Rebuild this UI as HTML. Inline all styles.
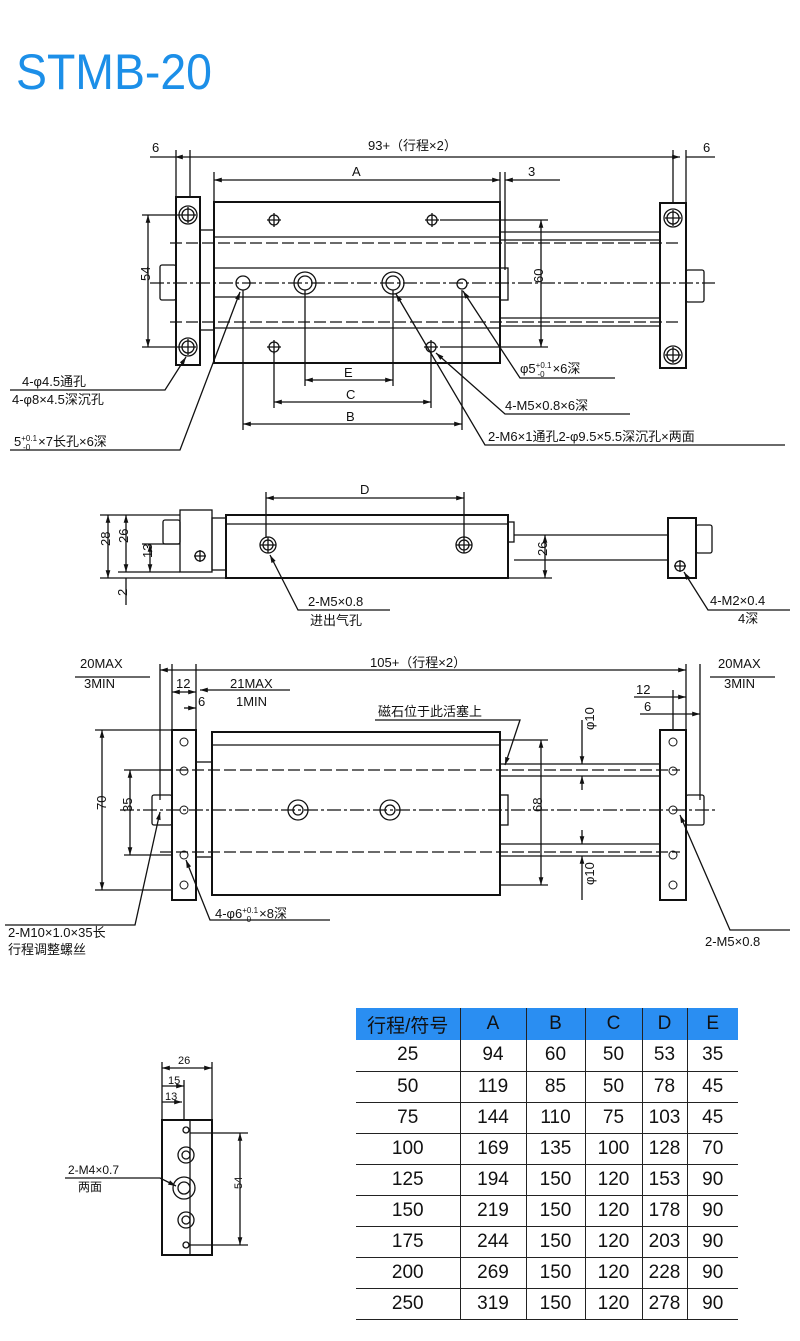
<!DOCTYPE html>
<html><head><meta charset="utf-8"><style>
body{margin:0;background:#fff;width:800px;height:1341px;overflow:hidden;font-family:"Liberation Sans","Noto Sans CJK SC",sans-serif}
svg{position:absolute;left:0;top:0}
svg text{font-family:"Liberation Sans","Noto Sans CJK SC",sans-serif;font-size:13px;fill:#111}
</style></head><body>
<svg width="800" height="1341" viewBox="0 0 800 1341">
<defs>
<marker id="a" viewBox="0 0 10 10" refX="10" refY="5" markerWidth="8" markerHeight="6" orient="auto-start-reverse"><path d="M0,2L10,5L0,8z" fill="#111"/></marker>
</defs>
<text x="16" y="89" textLength="196" lengthAdjust="spacingAndGlyphs" style="font-size:50px;fill:#1c8fe8">STMB-20</text>
<g stroke="#111" stroke-width="1.3" fill="none">
<!-- TOP VIEW -->
<line x1="175" y1="157" x2="680" y2="157" marker-start="url(#a)" marker-end="url(#a)"/>
<line x1="150" y1="157" x2="175" y2="157"/><line x1="686" y1="157" x2="715" y2="157"/>
<line x1="176" y1="150" x2="176" y2="197"/><line x1="190" y1="150" x2="190" y2="197"/>
<line x1="673" y1="150" x2="673" y2="203"/><line x1="686" y1="150" x2="686" y2="203"/>
<line x1="214" y1="180" x2="500" y2="180" marker-start="url(#a)" marker-end="url(#a)"/>
<line x1="214" y1="172" x2="214" y2="202"/><line x1="500" y1="172" x2="500" y2="202"/><line x1="505" y1="172" x2="505" y2="270"/>
<line x1="505" y1="180" x2="560" y2="180" marker-start="url(#a)"/>
<rect x="176" y="197" width="24" height="168" stroke-width="2"/>
<circle cx="188" cy="215" r="9"/><circle cx="188" cy="215" r="6"/><path d="M180 215h16M188 207v16"/>
<circle cx="188" cy="347" r="9"/><circle cx="188" cy="347" r="6"/><path d="M180 347h16M188 339v16"/>
<rect x="200" y="230" width="14" height="100"/>
<rect x="160" y="265" width="16" height="35" rx="2"/>
<rect x="214" y="202" width="286" height="161" stroke-width="2"/>
<line x1="214" y1="237" x2="500" y2="237"/><line x1="214" y1="268" x2="500" y2="268"/>
<line x1="214" y1="297" x2="500" y2="297"/><line x1="214" y1="328" x2="500" y2="328"/>
<line x1="170" y1="243" x2="680" y2="243" stroke-dasharray="12 4"/>
<line x1="170" y1="322" x2="680" y2="322" stroke-dasharray="12 4"/>
<line x1="150" y1="283" x2="715" y2="283" stroke-dasharray="14 3 3 3"/>
<line x1="500" y1="232" x2="660" y2="232"/><line x1="500" y1="240" x2="660" y2="240"/>
<line x1="500" y1="318" x2="660" y2="318"/><line x1="500" y1="326" x2="660" y2="326"/>
<rect x="500" y="268" width="8" height="32"/>
<rect x="660" y="203" width="26" height="165" stroke-width="2"/>
<circle cx="673" cy="218" r="9"/><circle cx="673" cy="218" r="6"/><path d="M665 218h16M673 210v16"/>
<circle cx="673" cy="355" r="9"/><circle cx="673" cy="355" r="6"/><path d="M665 355h16M673 347v16"/>
<rect x="686" y="270" width="18" height="32" rx="2"/>
<circle cx="274" cy="220" r="5"/><path d="M267 220h14M274 213v14"/>
<circle cx="432" cy="220" r="5"/><path d="M425 220h14M432 213v14"/>
<circle cx="274" cy="347" r="5"/><path d="M267 347h14M274 340v14"/>
<circle cx="431" cy="347" r="5"/><path d="M424 347h14M431 340v14"/>
<circle cx="243" cy="283" r="7"/>
<circle cx="305" cy="283" r="11"/><circle cx="305" cy="283" r="7"/>
<circle cx="393" cy="283" r="11"/><circle cx="393" cy="283" r="7"/>
<circle cx="462" cy="284" r="5"/>
<line x1="148" y1="215" x2="148" y2="347" marker-start="url(#a)" marker-end="url(#a)"/>
<line x1="142" y1="215" x2="180" y2="215"/><line x1="142" y1="347" x2="180" y2="347"/>
<line x1="541" y1="220" x2="541" y2="347" marker-start="url(#a)" marker-end="url(#a)"/>
<line x1="440" y1="220" x2="548" y2="220"/><line x1="440" y1="347" x2="548" y2="347"/>
<line x1="305" y1="290" x2="305" y2="386"/><line x1="393" y1="290" x2="393" y2="386"/>
<line x1="274" y1="352" x2="274" y2="408"/><line x1="431" y1="352" x2="431" y2="408"/>
<line x1="243" y1="290" x2="243" y2="430"/><line x1="462" y1="290" x2="462" y2="430"/>
<line x1="305" y1="380" x2="393" y2="380" marker-start="url(#a)" marker-end="url(#a)"/>
<line x1="274" y1="402" x2="431" y2="402" marker-start="url(#a)" marker-end="url(#a)"/>
<line x1="243" y1="424" x2="462" y2="424" marker-start="url(#a)" marker-end="url(#a)"/>
<path d="M10 390H165L186 357" marker-end="url(#a)"/>
<path d="M10 450H180L240 292" marker-end="url(#a)"/>
<path d="M615 378H520L463 291" marker-end="url(#a)"/>
<path d="M630 414H505L436 353" marker-end="url(#a)"/>
<path d="M785 445H485L396 294" marker-end="url(#a)"/>
<!-- SIDE VIEW -->
<line x1="266" y1="498" x2="464" y2="498" marker-start="url(#a)" marker-end="url(#a)"/>
<line x1="266" y1="492" x2="266" y2="538"/><line x1="464" y1="492" x2="464" y2="538"/>
<rect x="226" y="515" width="282" height="63" stroke-width="2"/>
<line x1="226" y1="524" x2="508" y2="524"/>
<rect x="180" y="510" width="32" height="62"/><rect x="212" y="518" width="14" height="52"/>
<rect x="163" y="520" width="17" height="24" rx="2"/>
<rect x="508" y="522" width="6" height="20"/>
<line x1="514" y1="535" x2="668" y2="535"/><line x1="514" y1="560" x2="668" y2="560"/>
<rect x="668" y="518" width="28" height="60" stroke-width="2"/>
<rect x="696" y="525" width="16" height="28" rx="2"/>
<circle cx="680" cy="566" r="5"/><path d="M674 566h12M680 560v12"/>
<circle cx="268" cy="545" r="8"/><circle cx="268" cy="545" r="5"/><path d="M260 545h16M268 537v16"/>
<circle cx="464" cy="545" r="8"/><circle cx="464" cy="545" r="5"/><path d="M456 545h16M464 537v16"/>
<circle cx="200" cy="556" r="5"/><path d="M194 556h12M200 550v12"/>
<line x1="108" y1="515" x2="108" y2="578" marker-start="url(#a)" marker-end="url(#a)"/>
<line x1="126" y1="515" x2="126" y2="572" marker-start="url(#a)" marker-end="url(#a)"/>
<line x1="150" y1="544" x2="150" y2="572" marker-start="url(#a)" marker-end="url(#a)"/>
<line x1="100" y1="515" x2="180" y2="515"/><line x1="100" y1="578" x2="226" y2="578"/><line x1="118" y1="572" x2="180" y2="572"/><line x1="142" y1="544" x2="180" y2="544"/>
<line x1="126" y1="578" x2="126" y2="605"/>
<line x1="545" y1="535" x2="545" y2="578" marker-start="url(#a)" marker-end="url(#a)"/>
<line x1="508" y1="578" x2="552" y2="578"/>
<path d="M390 610H298L270 555" marker-end="url(#a)"/>
<path d="M790 610H708L684 572" marker-end="url(#a)"/>
<!-- FRONT VIEW -->
<line x1="160" y1="670" x2="686" y2="670" marker-start="url(#a)" marker-end="url(#a)"/>
<line x1="75" y1="677" x2="150" y2="677"/><line x1="710" y1="677" x2="775" y2="677"/>
<line x1="160" y1="664" x2="160" y2="800"/><line x1="172" y1="664" x2="172" y2="730"/><line x1="196" y1="664" x2="196" y2="730"/>
<line x1="686" y1="664" x2="686" y2="730"/><line x1="700" y1="664" x2="700" y2="800"/><line x1="673" y1="690" x2="673" y2="730"/>
<line x1="172" y1="692" x2="196" y2="692" marker-start="url(#a)" marker-end="url(#a)"/>
<line x1="184" y1="708" x2="196" y2="708" marker-end="url(#a)"/>
<line x1="200" y1="690" x2="290" y2="690" marker-start="url(#a)"/>
<line x1="634" y1="697" x2="686" y2="697" marker-end="url(#a)"/>
<line x1="640" y1="714" x2="673" y2="714"/><line x1="673" y1="714" x2="700" y2="714" marker-end="url(#a)"/>
<rect x="172" y="730" width="24" height="170" stroke-width="2"/>
<rect x="196" y="762" width="16" height="95"/>
<rect x="152" y="795" width="20" height="30" rx="2"/>
<rect x="212" y="732" width="288" height="163" stroke-width="2"/>
<line x1="212" y1="745" x2="500" y2="745"/>
<line x1="120" y1="810" x2="715" y2="810" stroke-dasharray="14 3 3 3"/>
<line x1="160" y1="770" x2="680" y2="770" stroke-dasharray="12 4"/>
<line x1="160" y1="852" x2="680" y2="852" stroke-dasharray="12 4"/>
<line x1="500" y1="764" x2="660" y2="764"/><line x1="500" y1="776" x2="660" y2="776"/>
<line x1="500" y1="844" x2="660" y2="844"/><line x1="500" y1="856" x2="660" y2="856"/>
<rect x="500" y="795" width="8" height="30"/>
<rect x="660" y="730" width="26" height="170" stroke-width="2"/>
<rect x="686" y="795" width="18" height="30" rx="2"/>
<circle cx="298" cy="810" r="10"/><circle cx="298" cy="810" r="5"/>
<circle cx="390" cy="810" r="10"/><circle cx="390" cy="810" r="5"/>
<g stroke-width="1"><circle cx="184" cy="742" r="4"/><circle cx="184" cy="771" r="4"/><circle cx="184" cy="810" r="4"/><circle cx="184" cy="855" r="4"/><circle cx="184" cy="885" r="4"/>
<circle cx="673" cy="742" r="4"/><circle cx="673" cy="771" r="4"/><circle cx="673" cy="810" r="4"/><circle cx="673" cy="855" r="4"/><circle cx="673" cy="885" r="4"/></g>
<line x1="102" y1="730" x2="102" y2="890" marker-start="url(#a)" marker-end="url(#a)"/>
<line x1="95" y1="730" x2="172" y2="730"/><line x1="95" y1="890" x2="172" y2="890"/>
<line x1="130" y1="770" x2="130" y2="855" marker-start="url(#a)" marker-end="url(#a)"/>
<line x1="124" y1="770" x2="172" y2="770"/><line x1="124" y1="855" x2="172" y2="855"/>
<line x1="541" y1="740" x2="541" y2="885" marker-start="url(#a)" marker-end="url(#a)"/>
<line x1="500" y1="740" x2="548" y2="740"/><line x1="500" y1="885" x2="548" y2="885"/>
<line x1="582" y1="720" x2="582" y2="764" marker-end="url(#a)"/><line x1="582" y1="790" x2="582" y2="776" marker-end="url(#a)"/>
<line x1="582" y1="830" x2="582" y2="844" marker-end="url(#a)"/><line x1="582" y1="900" x2="582" y2="856" marker-end="url(#a)"/>
<path d="M375 720H520L505 765" marker-end="url(#a)"/>
<path d="M5 925H135L160 812" marker-end="url(#a)"/>
<path d="M330 920H210L186 860" marker-end="url(#a)"/>
<path d="M790 930H730L680 815" marker-end="url(#a)"/>
<!-- SMALL VIEW -->
<rect x="162" y="1120" width="50" height="135" stroke-width="2"/>
<line x1="190" y1="1120" x2="190" y2="1255"/>
<line x1="162" y1="1068" x2="212" y2="1068" marker-start="url(#a)" marker-end="url(#a)"/>
<line x1="162" y1="1086" x2="184" y2="1086" marker-end="url(#a)"/>
<line x1="162" y1="1102" x2="182" y2="1102" marker-end="url(#a)"/>
<line x1="162" y1="1062" x2="162" y2="1120"/><line x1="212" y1="1062" x2="212" y2="1120"/><line x1="184" y1="1080" x2="184" y2="1120"/>
<circle cx="186" cy="1130" r="3"/><circle cx="186" cy="1245" r="3"/>
<circle cx="186" cy="1155" r="8"/><circle cx="186" cy="1155" r="4"/>
<circle cx="184" cy="1188" r="11"/><circle cx="184" cy="1188" r="6"/>
<circle cx="186" cy="1220" r="8"/><circle cx="186" cy="1220" r="4"/>
<line x1="240" y1="1133" x2="240" y2="1245" marker-start="url(#a)" marker-end="url(#a)"/>
<line x1="190" y1="1133" x2="248" y2="1133"/><line x1="190" y1="1245" x2="248" y2="1245"/>
<path d="M65 1178H160L176 1186" marker-end="url(#a)"/>
</g>
<!-- TEXT -->
<text x="152" y="152">6</text><text x="703" y="152">6</text>
<text x="368" y="150">93+（行程×2）</text>
<text x="352" y="176">A</text><text x="528" y="176">3</text>
<text x="143" y="288" transform="rotate(-90 143 281)">54</text>
<text x="536" y="290" transform="rotate(-90 536 283)">60</text>
<text x="344" y="377">E</text><text x="346" y="399">C</text><text x="346" y="421">B</text>
<text x="22" y="386">4-φ4.5通孔</text><text x="12" y="404">4-φ8×4.5深沉孔</text>
<text x="14" y="446">5<tspan style="font-size:8px" dy="-5">+0.1</tspan><tspan style="font-size:8px" dx="-14" dy="9">-0</tspan><tspan dx="8" dy="-4">×7长孔×6深</tspan></text>
<text x="520" y="373">φ5<tspan style="font-size:8px" dy="-5">+0.1</tspan><tspan style="font-size:8px" dx="-14" dy="9">-0</tspan><tspan dx="8" dy="-4">×6深</tspan></text>
<text x="505" y="410">4-M5×0.8×6深</text>
<text x="488" y="441">2-M6×1通孔2-φ9.5×5.5深沉孔×两面</text>
<text x="360" y="494">D</text>
<text x="104" y="552" transform="rotate(-90 104 546)">28</text>
<text x="122" y="549" transform="rotate(-90 122 543)">26</text>
<text x="146" y="564" transform="rotate(-90 146 558)">13</text>
<text x="122" y="601" transform="rotate(-90 122 596)">2</text>
<text x="541" y="562" transform="rotate(-90 541 556)">26</text>
<text x="308" y="606">2-M5×0.8</text><text x="310" y="625">进出气孔</text>
<text x="710" y="605">4-M2×0.4</text><text x="738" y="623">4深</text>
<text x="370" y="667">105+（行程×2）</text>
<text x="80" y="668">20MAX</text><text x="84" y="688">3MIN</text>
<text x="718" y="668">20MAX</text><text x="724" y="688">3MIN</text>
<text x="176" y="688">12</text><text x="198" y="706">6</text>
<text x="230" y="688">21MAX</text><text x="236" y="706">1MIN</text>
<text x="636" y="694">12</text><text x="644" y="711">6</text>
<text x="378" y="716">磁石位于此活塞上</text>
<text x="98" y="818" transform="rotate(-90 98 810)">70</text>
<text x="126" y="818" transform="rotate(-90 126 812)">35</text>
<text x="536" y="818" transform="rotate(-90 536 812)">68</text>
<text x="586" y="738" transform="rotate(-90 586 730)">φ10</text>
<text x="586" y="893" transform="rotate(-90 586 885)">φ10</text>
<text x="8" y="937">2-M10×1.0×35长</text><text x="8" y="954">行程调整螺丝</text>
<text x="215" y="918">4-φ6<tspan style="font-size:8px" dy="-5">+0.1</tspan><tspan style="font-size:8px" dx="-14" dy="9">-0</tspan><tspan dx="8" dy="-4">×8深</tspan></text>
<text x="705" y="946">2-M5×0.8</text>
<text x="178" y="1064" style="font-size:11px">26</text><text x="168" y="1084" style="font-size:11px">15</text><text x="165" y="1100" style="font-size:11px">13</text>
<text x="68" y="1174" style="font-size:12px">2-M4×0.7</text><text x="78" y="1191" style="font-size:12px">两面</text>
<text x="236" y="1195" style="font-size:11px" transform="rotate(-90 236 1189)">54</text>
</svg>
<table style="position:absolute;left:356px;top:1008px;border-collapse:collapse;font-family:'Liberation Sans','Noto Sans CJK SC',sans-serif;font-size:19px;color:#111;text-align:center">
<colgroup><col style="width:104px"><col style="width:66px"><col style="width:59px"><col style="width:57px"><col style="width:45px"><col style="width:51px"></colgroup>
<tr style="background:#2a8ef2;height:32px"><td style="border-right:1px solid #222">行程/符号</td><td style="border-right:1px solid #222">A</td><td style="border-right:1px solid #222">B</td><td style="border-right:1px solid #222">C</td><td style="border-right:1px solid #222">D</td><td>E</td></tr>
<tbody id="b"></tbody>
</table>
<script>
var d=[[25,94,60,50,53,35],[50,119,85,50,78,45],[75,144,110,75,103,45],[100,169,135,100,128,70],[125,194,150,120,153,90],[150,219,150,120,178,90],[175,244,150,120,203,90],[200,269,150,120,228,90],[250,319,150,120,278,90]];
var h='';d.forEach(function(r){h+='<tr style="height:31px">';r.forEach(function(c,i){h+='<td style="padding:0;border-bottom:1.5px solid #222;'+(i<5?'border-right:1.5px solid #222':'')+'">'+c+'</td>'});h+='</tr>'});
document.getElementById('b').innerHTML=h;
</script>
</body></html>
